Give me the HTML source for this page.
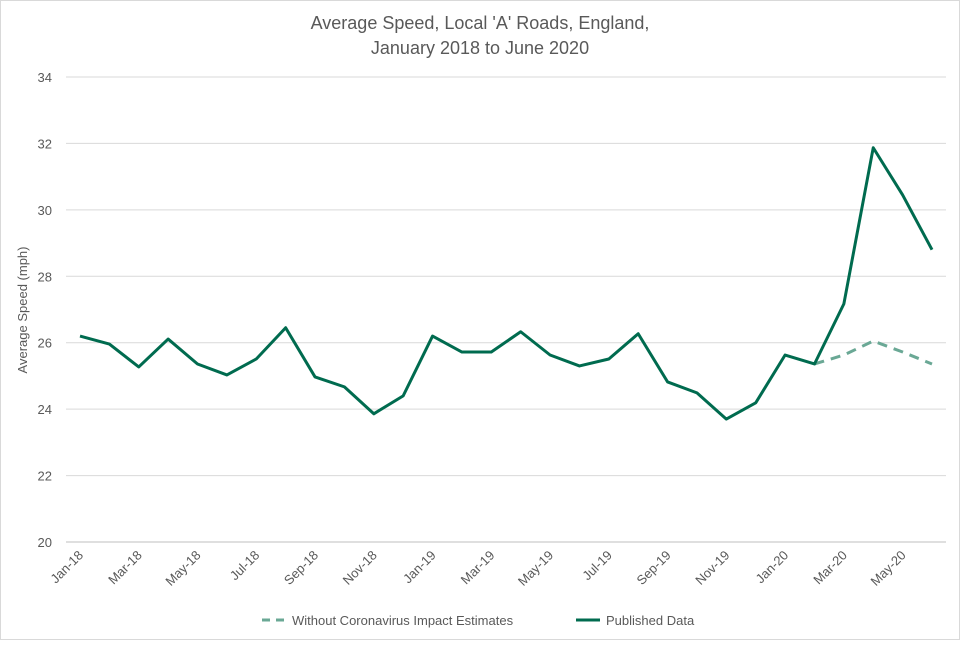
<!DOCTYPE html>
<html><head><meta charset="utf-8"><style>
body{margin:0;background:#fff;font-family:"Liberation Sans",sans-serif;}
svg text{fill:#595959;font-family:"Liberation Sans",sans-serif;}
</style></head><body>
<svg id="chart" width="960" height="640" viewBox="0 0 960 640">
<rect x="0.5" y="0.5" width="959" height="639" fill="#fff" stroke="#d9d9d9"/>
<text x="480" y="29" text-anchor="middle" font-size="18">Average Speed, Local 'A' Roads, England,</text>
<text x="480" y="54" text-anchor="middle" font-size="18">January 2018 to June 2020</text>
<text transform="translate(27,310) rotate(-90)" text-anchor="middle" font-size="13">Average Speed (mph)</text>
<g id="grid"></g><g id="xt"></g><g id="series"></g>
<g>
<line x1="262" y1="620" x2="286" y2="620" stroke="#6aa895" stroke-width="3" stroke-dasharray="8,6"/>
<text x="292" y="625" font-size="13">Without Coronavirus Impact Estimates</text>
<line x1="576" y1="620" x2="600" y2="620" stroke="#006b4f" stroke-width="3"/>
<text x="606" y="625" font-size="13">Published Data</text>
</g>
</svg>
<script>
const months=["Jan-18","Feb-18","Mar-18","Apr-18","May-18","Jun-18","Jul-18","Aug-18","Sep-18","Oct-18","Nov-18","Dec-18","Jan-19","Feb-19","Mar-19","Apr-19","May-19","Jun-19","Jul-19","Aug-19","Sep-19","Oct-19","Nov-19","Dec-19","Jan-20","Feb-20","Mar-20","Apr-20","May-20","Jun-20"];
const published=[26.2,25.96,25.27,26.11,25.36,25.03,25.51,26.45,24.97,24.67,23.86,24.4,26.2,25.72,25.72,26.33,25.63,25.3,25.51,26.27,24.82,24.49,23.7,24.19,25.63,25.36,27.17,31.87,30.45,28.8];
const estimateStart=25;
const estimates=[25.36,25.63,26.05,25.72,25.36];
const yTicks=[20,22,24,26,28,30,32,34];
const NS="http://www.w3.org/2000/svg";
function X(i){return 80+i*(852/29);}
function Y(v){return 542-(v-20)*(465/14);}
function mk(tag,attrs,parent){const e=document.createElementNS(NS,tag);for(const k in attrs)e.setAttribute(k,attrs[k]);parent.appendChild(e);return e;}
const grid=document.getElementById('grid'),xt=document.getElementById('xt'),ser=document.getElementById('series');
yTicks.forEach(v=>{
 const l=mk('line',{x1:66,x2:946,y1:Y(v),y2:Y(v),stroke:v===20?'#bfbfbf':'#d9d9d9','stroke-width':1},grid);
 
 
 const t=mk('text',{x:52,y:Y(v)+5,'text-anchor':'end','font-size':13},grid);
 t.textContent=v;
 
 
});
months.forEach((m,i)=>{
 if(i%2)return;
 const t=mk('text',{transform:`translate(${X(i)+4},${556}) rotate(-45)`,'text-anchor':'end','font-size':13},xt);
 t.textContent=m;
 
 
});
const ep=mk('polyline',{points:estimates.map((v,i)=>X(estimateStart+i)+','+Y(v)).join(' '),fill:'none',stroke:'#6aa895','stroke-width':3,'stroke-dasharray':'10,7'},ser);


const pp=mk('polyline',{points:published.map((v,i)=>X(i)+','+Y(v)).join(' '),fill:'none',stroke:'#006b4f','stroke-width':3,'stroke-linejoin':'round'},ser);


</script>
</body></html>
